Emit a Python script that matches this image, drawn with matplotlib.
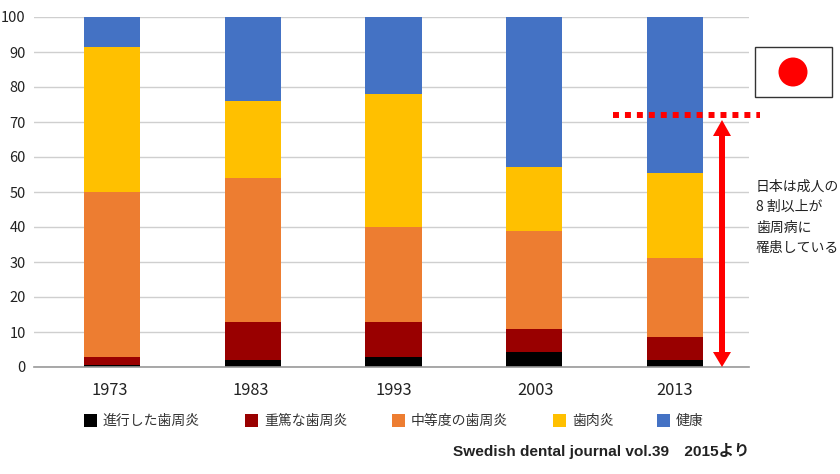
import numpy as np
import matplotlib
matplotlib.use('Agg')
import matplotlib.pyplot as plt
from matplotlib.patches import Rectangle, Circle, Polygon
from matplotlib.transforms import IdentityTransform, ScaledTranslation

plt.rcParams['font.family'] = ['Noto Sans CJK JP', 'DejaVu Sans']

years = ['1973', '1983', '1993', '2003', '2013']
labels = ['進行した歯周炎', '重篤な歯周炎', '中等度の歯周炎', '歯肉炎', '健康']
colors = ['#000000', '#990000', '#ED7D31', '#FFC000', '#4472C4']

advanced = [0.5, 2, 3, 4.3, 2]
severe = [2.5, 11, 10, 6.5, 6.6]
moderate = [47, 41, 27, 28, 22.6]
gingivitis = [41.5, 22, 38, 18.4, 24.2]
healthy = [8.5, 24, 22, 42.8, 44.6]
series = [advanced, severe, moderate, gingivitis, healthy]

W, H = 840, 474
fig = plt.figure(figsize=(W/100, H/100), dpi=100)
ax = fig.add_axes([34/W, 1-367/H, (749-34)/W, 350/H])

x = np.arange(len(years))
bottom = np.zeros(len(years))
for vals, c in zip(series, colors):
    ax.bar(x, vals, 0.4, bottom=bottom, color=c, zorder=3)
    bottom += np.array(vals)

ax.set_xlim((34-112)/140.75, (749-112)/140.75)
ax.set_ylim(0, 100)
ax.set_yticks(range(0, 101, 10))
ax.set_xticks(x)
ax.set_xticklabels(years)
ax.tick_params(length=0, labelcolor='#222222')
ax.tick_params(axis='x', pad=10.5, labelsize=11.8)
ax.tick_params(axis='y', pad=6, labelsize=10.5)
ax.grid(axis='y', color='#CFCFCF', lw=1, zorder=0)
for s in ['top', 'left', 'right']:
    ax.spines[s].set_visible(False)
ax.spines['bottom'].set_color('#999999')
ax.spines['bottom'].set_linewidth(1.2)
ax.spines['bottom'].set_zorder(4)

# year labels sit a little off the bar centres in the original
for lab, dx in zip(ax.get_xticklabels(), [-2.5, -1.5, 0, 1.5, 0]):
    lab.set_transform(lab.get_transform() + ScaledTranslation(dx/100, 0, fig.dpi_scale_trans))

# everything below is placed in pixels of the 840x474 picture
def px(a, b):
    return a/W, 1-b/H

def pix_patch(patch):
    patch.set_transform(IdentityTransform())
    fig.add_artist(patch)

# legend
legend_x = [84, 245, 392, 553, 657]
for lx, lab, c in zip(legend_x, labels, colors):
    fig.add_artist(Rectangle(px(lx, 427), 13/W, 13/H, color=c, lw=0))
    fig.text(*px(lx+19, 421), lab, fontsize=10, color='#333333', va='center', ha='left')

fig.text(*px(749, 451), 'Swedish dental journal vol.39　2015より', fontsize=11.1,
         fontweight='bold', family=['Liberation Sans', 'Noto Sans CJK JP'],
         color='#222222', va='center', ha='right')

# 72 percent line and arrow
xa, ya = px(613, 115)
xb, yb = px(760, 115)
fig.add_artist(plt.Line2D([xa, xb], [ya, yb], color='#FF0000', lw=4.3, ls=(0, (1, 1))))
arrow = [(719, 136), (713, 136), (722, 120), (731, 136), (725, 136),
         (725, 352), (731, 352), (722, 367), (713, 352), (719, 352)]
pix_patch(Polygon([(a, H-b) for a, b in arrow], closed=True, fc='#FF0000', lw=0))

# flag
fig.add_artist(Rectangle(px(755, 97), 77/W, 50/H, fc='white', ec='#333333', lw=1))
pix_patch(Circle((793, H-72), 14.5, fc='#FF0000', lw=0))

note = ['日本は成人の', '8 割以上が', '歯周病に', '罹患している']
for i, line in enumerate(note):
    fig.text(*px(756, 187+i*20.3), line, fontsize=10, color='#222222', va='center', ha='left')

fig.savefig('out.png', dpi=100)
